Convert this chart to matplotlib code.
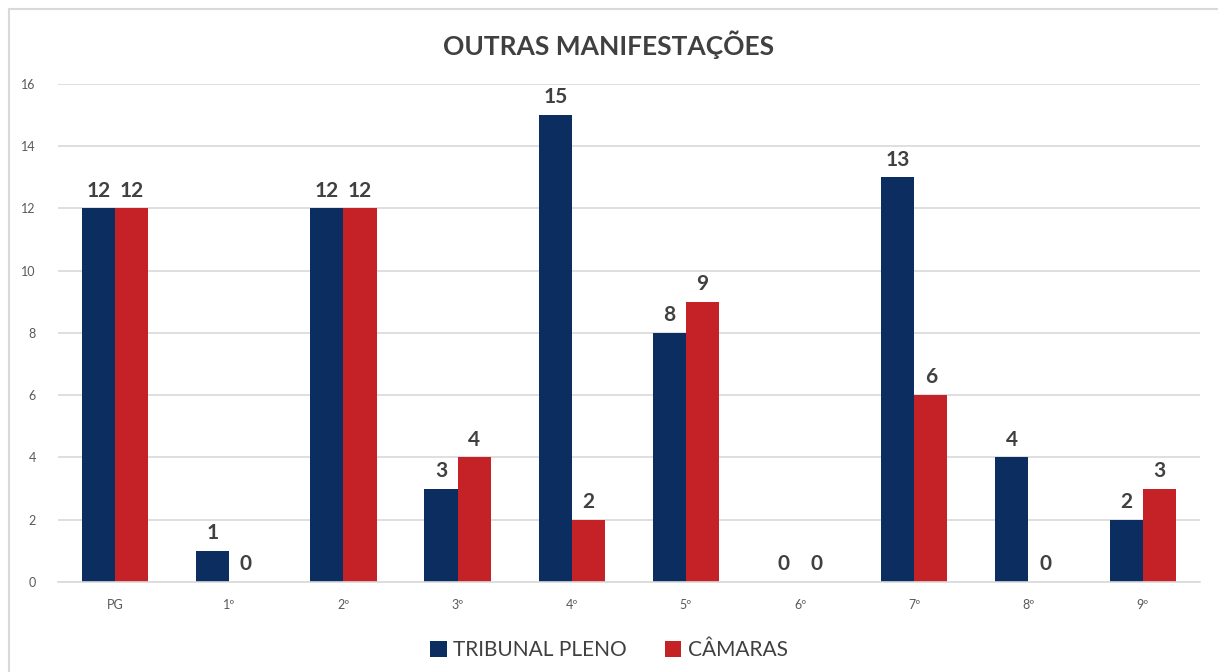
import numpy as np
import matplotlib
matplotlib.use("Agg")
import matplotlib.pyplot as plt
from matplotlib.patches import Rectangle

plt.rcParams['font.family'] = ['Lato', 'DejaVu Sans']

categories = ["PG", "1º", "2º", "3º", "4º", "5º", "6º", "7º", "8º", "9º"]
tribunal_pleno = [12, 1, 12, 3, 15, 8, 0, 13, 4, 2]
camaras = [12, 0, 12, 4, 2, 9, 0, 6, 0, 3]

navy = "#0b2d5f"
red = "#c52228"
textcol = "#404040"

fig = plt.figure(figsize=(12.18, 6.72), dpi=100)
fig.patches.append(Rectangle((9 / 1218, -0.1), 1.2, 1 - 9 / 672 + 0.1,
                             transform=fig.transFigure, fill=False,
                             edgecolor="#d9d9d9", linewidth=1.5))
ax = fig.add_axes([0.0476, 0.134, 0.9374, 0.741])

x = np.arange(len(categories))
w = 0.29
b1 = ax.bar(x - w / 2, tribunal_pleno, w, color=navy, label="TRIBUNAL PLENO")
b2 = ax.bar(x + w / 2, camaras, w, color=red, label="CÂMARAS")

# value labels above every bar (zeros too)
for bars in (b1, b2):
    for rect in bars:
        h = rect.get_height()
        ax.text(rect.get_x() + rect.get_width() / 2, h + 0.25, str(int(h)),
                ha="center", va="bottom", fontsize=15, fontweight="bold",
                color=textcol)

ax.set_xlim(-0.5, len(categories) - 0.5)
ax.set_ylim(0, 16)
ax.set_yticks(range(0, 17, 2))
ax.set_xticks(x)
ax.set_xticklabels(categories)
ax.tick_params(axis="both", length=0, labelsize=9, colors="#595959")
ax.tick_params(axis="x", pad=12)
ax.tick_params(axis="y", pad=16)
ax.grid(axis="y", color="#d9d9d9", linewidth=1.2)
ax.set_axisbelow(True)
for s in ("top", "right", "left"):
    ax.spines[s].set_visible(False)
ax.spines["bottom"].set_color("#d9d9d9")
ax.spines["bottom"].set_linewidth(1.2)

fig.text(0.5, 0.933, "OUTRAS MANIFESTAÇÕES", ha="center", va="center",
         fontsize=19, fontweight="bold", color=textcol)

fig.legend(loc="center", bbox_to_anchor=(0.5, 0.033), ncol=2, frameon=False,
           fontsize=15, handlelength=0.8, handleheight=0.8,
           handletextpad=0.3, columnspacing=1.8, labelcolor=textcol)

fig.savefig("out.png", dpi=100)
